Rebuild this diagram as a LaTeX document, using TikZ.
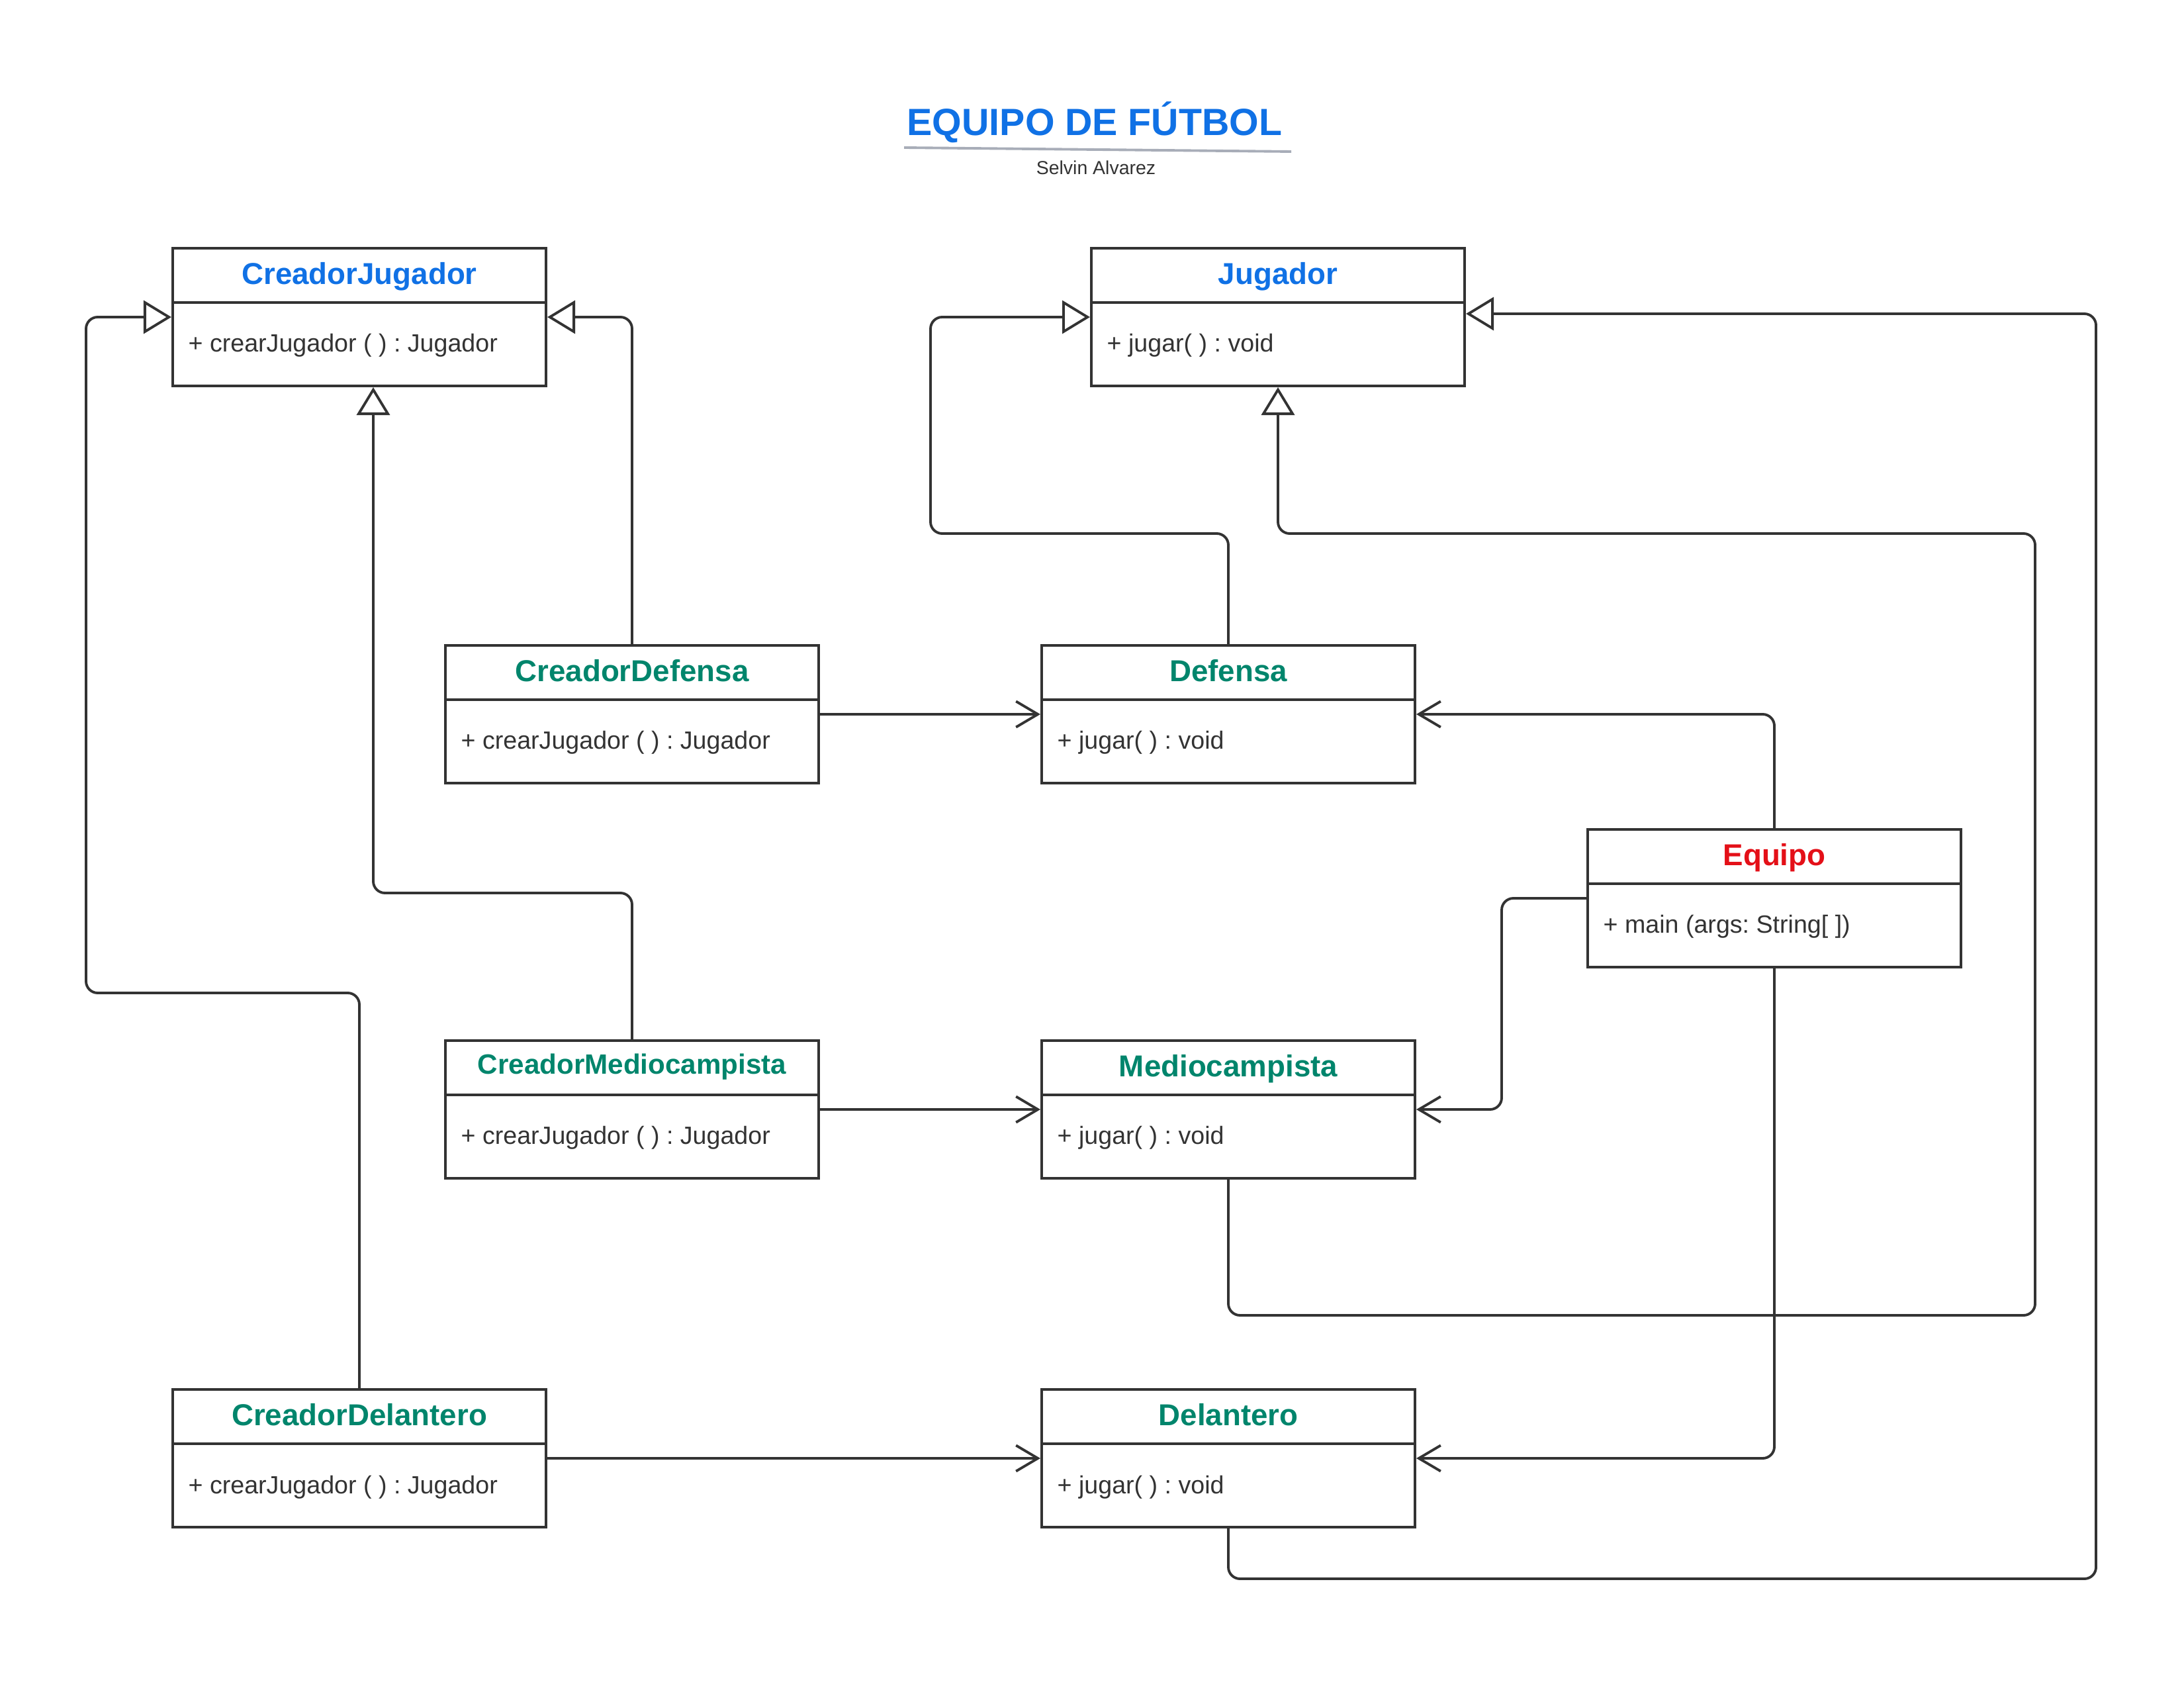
\documentclass[tikz,border=0pt]{standalone}
\usepackage{fontspec}
\setmainfont{Liberation Sans}
\usepackage{xcolor}
\usetikzlibrary{arrows.meta,calc,positioning}
\definecolor{nameblue}{RGB}{16,113,229}
\definecolor{namegreen}{RGB}{0,133,108}
\definecolor{namered}{RGB}{228,16,24}
\definecolor{linegray}{RGB}{51,51,51}
\definecolor{rulegray}{RGB}{168,173,184}
\frenchspacing

\begin{document}
\begin{tikzpicture}
	\tikzstyle{every node}=[font=\fontsize{10.7}{13}\selectfont, text=linegray]
	\tikzstyle{umlbox}=[draw=linegray, line width=1.15pt, minimum width=5.64cm, minimum height=2.08cm, inner sep=0pt]
	\tikzstyle{umlname}=[font=\fontsize{13}{15}\selectfont\bfseries, inner sep=0pt, anchor=base]
	\tikzstyle{umlop}=[inner sep=0pt, anchor=base west]
	\tikzstyle{divider}=[draw=linegray, line width=1.15pt]
	\tikzstyle{inherit}=[line width=1.1pt, draw=linegray, rounded corners=5pt, -{Triangle[open, length=4.2mm, width=5mm]}]
	\tikzstyle{assoc}=[line width=1.1pt, draw=linegray, rounded corners=5pt, -{Straight Barb[length=3.3mm, width=3.9mm]}]
	\useasboundingbox (0,0) rectangle (33,-25.5);

	% title
	\node [font=\fontsize{16.3}{19}\selectfont\bfseries, text=nameblue, inner sep=0pt, anchor=base] (title) at (16.54,-2.05) {EQUIPO DE FÚTBOL};
	\draw [rulegray, line width=1.1pt] (13.66,-2.23) -- (19.51,-2.29);
	\node [font=\fontsize{8.1}{10}\selectfont, inner sep=0pt, anchor=base] (autor) at (16.56,-2.64) {Selvin Alvarez};

	% classes
	\node [umlbox] (cjug) at (5.43,-4.79) {};
	\draw [divider] ($(cjug.north west)+(0,-0.84)$) -- ($(cjug.north east)+(0,-0.84)$);
	\node [umlname, text=nameblue] (cjugname) at ($(cjug.north)+(0,-0.57)$) {CreadorJugador};
	\node [umlop] (cjugop) at ($(cjug.north west)+(0.25,-1.59)$) {+ crearJugador ( ) : Jugador};

	\node [umlbox] (jug) at (19.31,-4.79) {};
	\draw [divider] ($(jug.north west)+(0,-0.84)$) -- ($(jug.north east)+(0,-0.84)$);
	\node [umlname, text=nameblue] (jugname) at ($(jug.north)+(0,-0.57)$) {Jugador};
	\node [umlop] (jugop) at ($(jug.north west)+(0.25,-1.59)$) {+ jugar( ) : void};

	\node [umlbox] (cdef) at (9.55,-10.79) {};
	\draw [divider] ($(cdef.north west)+(0,-0.84)$) -- ($(cdef.north east)+(0,-0.84)$);
	\node [umlname, text=namegreen] (cdefname) at ($(cdef.north)+(0,-0.57)$) {CreadorDefensa};
	\node [umlop] (cdefop) at ($(cdef.north west)+(0.25,-1.59)$) {+ crearJugador ( ) : Jugador};

	\node [umlbox] (def) at (18.56,-10.79) {};
	\draw [divider] ($(def.north west)+(0,-0.84)$) -- ($(def.north east)+(0,-0.84)$);
	\node [umlname, text=namegreen] (defname) at ($(def.north)+(0,-0.57)$) {Defensa};
	\node [umlop] (defop) at ($(def.north west)+(0.25,-1.59)$) {+ jugar( ) : void};

	\node [umlbox] (equipo) at (26.81,-13.57) {};
	\draw [divider] ($(equipo.north west)+(0,-0.84)$) -- ($(equipo.north east)+(0,-0.84)$);
	\node [umlname, text=namered] (equiponame) at ($(equipo.north)+(0,-0.57)$) {Equipo};
	\node [umlop] (equipoop) at ($(equipo.north west)+(0.25,-1.59)$) {+ main (args: String[ ])};

	\node [umlbox] (cmed) at (9.55,-16.76) {};
	\draw [divider] ($(cmed.north west)+(0,-0.84)$) -- ($(cmed.north east)+(0,-0.84)$);
	\node [umlname, text=namegreen, font=\fontsize{12}{14}\selectfont\bfseries] (cmedname) at ($(cmed.north)+(0,-0.53)$) {CreadorMediocampista};
	\node [umlop] (cmedop) at ($(cmed.north west)+(0.25,-1.59)$) {+ crearJugador ( ) : Jugador};

	\node [umlbox] (med) at (18.56,-16.76) {};
	\draw [divider] ($(med.north west)+(0,-0.84)$) -- ($(med.north east)+(0,-0.84)$);
	\node [umlname, text=namegreen] (medname) at ($(med.north)+(0,-0.57)$) {Mediocampista};
	\node [umlop] (medop) at ($(med.north west)+(0.25,-1.59)$) {+ jugar( ) : void};

	\node [umlbox] (cdel) at (5.43,-22.03) {};
	\draw [divider] ($(cdel.north west)+(0,-0.84)$) -- ($(cdel.north east)+(0,-0.84)$);
	\node [umlname, text=namegreen] (cdelname) at ($(cdel.north)+(0,-0.57)$) {CreadorDelantero};
	\node [umlop] (cdelop) at ($(cdel.north west)+(0.25,-1.59)$) {+ crearJugador ( ) : Jugador};

	\node [umlbox] (del) at (18.56,-22.03) {};
	\draw [divider] ($(del.north west)+(0,-0.84)$) -- ($(del.north east)+(0,-0.84)$);
	\node [umlname, text=namegreen] (delname) at ($(del.north)+(0,-0.57)$) {Delantero};
	\node [umlop] (delop) at ($(del.north west)+(0.25,-1.59)$) {+ jugar( ) : void};

	% inheritance
	\draw [inherit] (cdef.north) |- (cjug.east);
	\draw [inherit] (cmed.north) |- (5.64,-13.49) -- ([xshift=0.21cm]cjug.south);
	\draw [inherit] (cdel.north) |- (1.30,-15.00) |- (cjug.west);
	\draw [inherit] (def.north) |- (14.06,-8.06) |- (jug.west);
	\draw [inherit] (med.south) |- (30.75,-19.87) |- (19.31,-8.06) -- (jug.south);
	\draw [inherit] (del.south) |- (31.67,-23.85) |- ([yshift=0.05cm]jug.east);

	% associations
	\draw [assoc] (cdef.east) -- (def.west);
	\draw [assoc] (cmed.east) -- (med.west);
	\draw [assoc] (cdel.east) -- (del.west);
	\draw [assoc] (equipo.north) |- (def.east);
	\draw [assoc] (equipo.west) -- (22.69,-13.57) |- (med.east);
	\draw [assoc] (equipo.south) |- (del.east);
\end{tikzpicture}
\end{document}
